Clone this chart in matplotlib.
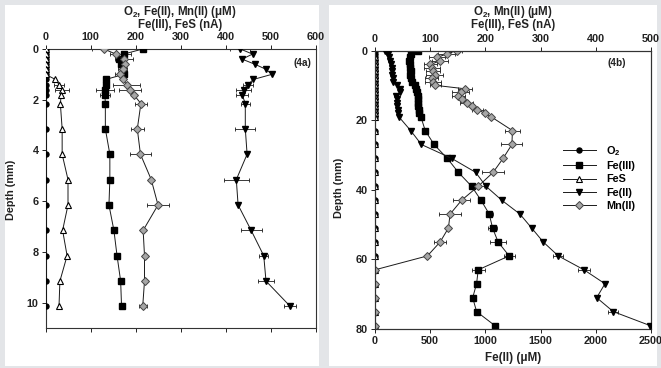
import numpy as np
import matplotlib
matplotlib.use("Agg")
import matplotlib.pyplot as plt
from matplotlib.patches import Rectangle
from matplotlib.lines import Line2D

plt.rcParams['font.family'] = ['Liberation Sans', 'DejaVu Sans']
plt.rcParams['font.weight'] = 'bold'
plt.rcParams['mathtext.fontset'] = 'custom'
plt.rcParams['mathtext.rm'] = 'Liberation Sans:bold'
plt.rcParams['mathtext.bf'] = 'Liberation Sans:bold'
plt.rcParams['mathtext.it'] = 'Liberation Sans:bold'

NaN = np.nan

# ---------------- Panel (4a) data ----------------
depth_a = [0, 0.2, 0.4, 0.6, 0.8, 1.0, 1.2, 1.4, 1.6, 1.8,
           2.15, 3.15, 4.15, 5.15, 6.15, 7.15, 8.15, 9.15, 10.15]
o2_a    = [0, 0, 0, 0, 0, 0, 0, 0, 0, 0, 0, 0, 0, 0, 0, 0, 0, 0, 0]
feiii_a = [216, 174, 163, 167, 172, 174, 134, 135, 133, 132,
           133, 133, 143, 143, 141, 152, 159, 167, 169]
fes_a   = [0, 0, 0, 0, 0, 0, 22, 30, 37, 35,
           33, 37, 37, 50, 50, 38, 48, 32, 30]
feii_a  = [433, 460, 437, 465, 490, 503, 462, 450, 440, 437,
           444, 444, 448, 424, 428, 457, 485, 490, 544]
mnii_a  = [130, 156, 174, 176, 172, 165, 172, 180, 188, 196,
           212, 204, 211, 235, 250, 217, 220, 220, 216]
feiii_a_err = [0, 15, 0, 0, 0, 0, 0, 0, 20, 12, 0, 0, 0, 0, 0, 0, 0, 0, 4]
fes_a_err   = [0, 0, 0, 0, 0, 0, 0, 12, 16, 0, 0, 0, 0, 0, 0, 0, 0, 0, 0]
feii_a_err  = [22, 0, 0, 0, 0, 0, 0, 12, 16, 14, 10, 22, 0, 28, 0, 23, 10, 17, 13]
mnii_a_err  = [26, 12, 20, 0, 10, 10, 0, 31, 25, 0, 13, 15, 24, 0, 24, 0, 0, 4, 9]

# ---------------- Panel (4b) data ----------------
depth_b = [0, 1, 2, 3, 4, 5, 6, 7, 8, 9, 10, 11, 12, 13, 14, 15, 16, 17, 18, 19,
           23, 27, 31, 35, 39, 43, 47, 51, 55, 59, 63, 67, 71, 75, 79]
o2_b    = [0] * 35
fes_b   = [NaN, NaN] + [0] * 33
feiii_b = [78, 66, 63, 62, 64, 63, 65, 64, 66, 67, 72, 74, 76, 77, 77, 78, 78, 79, 80, 83,
           91, 107, 131, 151, 175, 192, 207, 213, 223, 243, 187, 184, 177, 184, 217]
feii_b  = [90, 120, 130, 140, 145, 150, 150, 155, 160, 165, 200, 225, 230, 190, 195, 200, 200, 205, 210, 215,
           323, 420, 695, 912, 1005, 1148, 1313, 1419, 1524, 1660, 1893, 2083, 2008, 2158, 2490]
mnii_b  = [148, 130, 112, 118, 100, 103, 105, 108, 103, 105, 109, 163, 155, 151, 158, 166, 175, 185, 199, 210,
           249, 248, 232, 214, 187, 157, 136, 133, 118, 95, 0, 0, 0, 0, 0]
feiii_b_err = [0] * 20 + [5, 0, 0, 5, 0, 6, 6, 8, 15, 10, 12, 0, 0, 0, 0]
feii_b_err  = [0] * 20 + [0, 0, 0, 0, 0, 0, 0, 0, 0, 45, 55, 0, 0, 45, 0]
mnii_b_err  = [10, 15, 15, 15, 12, 15, 12, 15, 12, 15, 10, 12, 15, 12, 0, 12, 0, 10, 0, 0,
               14, 19, 0, 20, 10, 15, 20, 0, 11, 0, 0, 0, 0, 0, 0]

labels = ['O$_\\mathbf{2}$', 'Fe(III)', 'FeS', 'Fe(II)', 'Mn(II)']

W, H = 661, 368
fig = plt.figure(figsize=(W / 100, H / 100), dpi=100)
fig.patch.set_facecolor('#e3e5e8')
fig.add_artist(Rectangle((5 / W, 2 / H), 314 / W, 361 / H, transform=fig.transFigure,
                         facecolor='white', edgecolor='none', zorder=-10))
fig.add_artist(Rectangle((329 / W, 2 / H), 328 / W, 361 / H, transform=fig.transFigure,
                         facecolor='white', edgecolor='none', zorder=-10))

def fr(x0, y0, x1, y1):
    return [x0 / W, 1 - y1 / H, (x1 - x0) / W, (y1 - y0) / H]

LC = '#1a1a1a'
styles = {
    'o2':    dict(marker='o', ms=3.6, mfc='black', mec='black'),
    'feiii': dict(marker='s', ms=4.2, mfc='black', mec='black'),
    'fes':   dict(marker='^', ms=4.6, mfc='white', mec='black', mew=0.8),
    'feii':  dict(marker='v', ms=4.8, mfc='black', mec='black'),
    'mnii':  dict(marker='D', ms=4.0, mfc='#a6a6a6', mec='#444444', mew=0.7),
}

def draw(ax, x, y, key, xerr=None):
    x = np.array(x, dtype=float)
    y = np.array(y, dtype=float)
    if xerr is not None:
        e = np.array(xerr, dtype=float)
        m = e > 0
        ax.errorbar(x[m], y[m], xerr=e[m], fmt='none', ecolor=LC, elinewidth=0.6,
                    capsize=1.6, capthick=0.6, zorder=2)
    ax.plot(x, y, color=LC, lw=0.7, zorder=3, **styles[key])

TS = 7.8

def style_axes(ax):
    for s in ax.spines.values():
        s.set_linewidth(0.8)
        s.set_color('#333333')
    ax.tick_params(direction='out', length=3, width=0.7, labelsize=TS, pad=2, colors='#222222')

# ---------------- Panel a ----------------
axa = fig.add_axes(fr(45.5, 49, 315.5, 328))
draw(axa, o2_a, depth_a, 'o2')
draw(axa, feiii_a, depth_a, 'feiii', feiii_a_err)
draw(axa, fes_a, depth_a, 'fes', fes_a_err)
draw(axa, feii_a, depth_a, 'feii', feii_a_err)
draw(axa, mnii_a, depth_a, 'mnii', mnii_a_err)
axa.set_xlim(0, 600)
axa.set_ylim(11, 0)
axa.set_xticks([0, 100, 200, 300, 400, 500, 600])
axa.set_yticks([0, 2, 4, 6, 8, 10])
style_axes(axa)
axa.tick_params(axis='x', top=True, labeltop=True, bottom=True, labelbottom=False)
for lab in axa.get_xticklabels() + axa.get_yticklabels():
    lab.set_fontweight('bold')

# ---------------- Panel b ----------------
axb = fig.add_axes(fr(375, 50.5, 651, 329))
draw(axb, o2_b, depth_b, 'o2')
draw(axb, feiii_b, depth_b, 'feiii', feiii_b_err)
draw(axb, fes_b, depth_b, 'fes')
draw(axb, mnii_b, depth_b, 'mnii', mnii_b_err)
axb.set_xlim(0, 500)
axb.set_ylim(80, 0)
axb.set_xticks([0, 100, 200, 300, 400, 500])
axb.set_yticks([0, 20, 40, 60, 80])
style_axes(axb)

axb2 = axb.twiny()
draw(axb2, feii_b, depth_b, 'feii', feii_b_err)
axb2.set_xlim(0, 2500)
axb2.set_ylim(80, 0)
axb2.set_xticks([0, 500, 1000, 1500, 2000, 2500])
style_axes(axb2)
axb2.tick_params(axis='x', top=False, labeltop=False, bottom=True, labelbottom=True)
axb2.xaxis.set_label_position('bottom')
axb2.set_xlabel('Fe(II) (μM)', fontsize=8.4, fontweight='bold', labelpad=4, color='#222222')

axb.tick_params(axis='x', top=True, labeltop=True, bottom=False, labelbottom=False)

for a in [axb, axb2]:
    for lab in a.get_xticklabels() + a.get_yticklabels():
        lab.set_fontweight('bold')

# Legend
keys = ['o2', 'feiii', 'fes', 'feii', 'mnii']
handles = [Line2D([0], [0], color=LC, lw=0.7, **styles[k]) for k in keys]
axb2.legend(handles, labels, loc='upper left', bbox_to_anchor=(563 / W, 1 - 144 / H),
            bbox_transform=fig.transFigure, frameon=False,
            handlelength=3.0, handletextpad=1.0, labelspacing=0.3, borderpad=0,
            borderaxespad=0, prop={'weight': 'bold', 'size': 7.8})

# Titles and labels
tc = '#222222'
FS = 8.3
fig.text(180 / W, 1 - 12 / H, 'O$_\\mathbf{2}$, Fe(II), Mn(II) (μM)', ha='center', va='center',
         fontsize=FS, fontweight='bold', color=tc)
fig.text(180 / W, 1 - 25 / H, 'Fe(III), FeS (nA)', ha='center', va='center',
         fontsize=FS, fontweight='bold', color=tc)
fig.text(513 / W, 1 - 12 / H, 'O$_\\mathbf{2}$, Mn(II) (μM)', ha='center', va='center',
         fontsize=FS, fontweight='bold', color=tc)
fig.text(513 / W, 1 - 25 / H, 'Fe(III), FeS (nA)', ha='center', va='center',
         fontsize=FS, fontweight='bold', color=tc)
fig.text(302 / W, 1 - 63 / H, '(4a)', ha='center', va='center', fontsize=7.2, fontweight='bold', color=tc)
fig.text(617 / W, 1 - 63 / H, '(4b)', ha='center', va='center', fontsize=7.2, fontweight='bold', color=tc)
fig.text(11 / W, 1 - 190 / H, 'Depth (mm)', rotation=90, ha='center', va='center',
         fontsize=7.8, fontweight='bold', color=tc)
fig.text(339 / W, 1 - 188 / H, 'Depth (mm)', rotation=90, ha='center', va='center',
         fontsize=7.8, fontweight='bold', color=tc)

fig.savefig('out.png', dpi=100, facecolor=fig.get_facecolor())
